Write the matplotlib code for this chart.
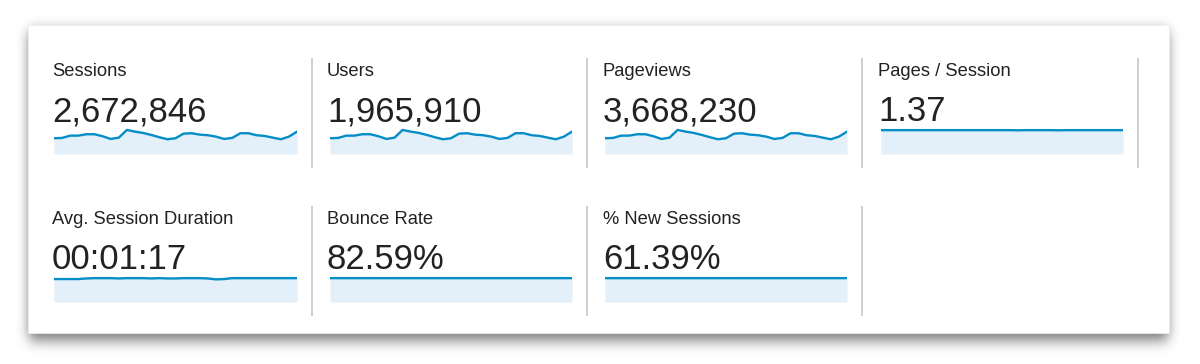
import math
import numpy as np
import matplotlib
matplotlib.use("Agg")
import matplotlib.pyplot as plt
from matplotlib.patches import Rectangle

plt.rcParams['font.family'] = ['Liberation Sans', 'DejaVu Sans']

# ---- data ----
labels = ["Sessions", "Users", "Pageviews", "Pages / Session",
          "Avg. Session Duration", "Bounce Rate", "% New Sessions"]
totals = ["2,672,846", "1,965,910", "3,668,230", "1.37",
          "00:01:17", "82.59%", "61.39%"]

sessions = [74100, 75600, 86400, 86400, 93000, 93000, 83600, 70800, 77000, 113300,
            105300, 99200, 89700, 78900, 69400, 74100, 95900, 97700, 91100, 88300,
            81700, 70800, 75600, 97700, 97700, 88300, 85000, 77000, 69400, 81700, 105300]
users = [54500, 55600, 63500, 63500, 68400, 68400, 61500, 52100, 56600, 83300,
         77400, 73000, 66000, 58000, 51000, 54500, 70500, 71900, 67000, 64900,
         60100, 52100, 55600, 71900, 71900, 64900, 62500, 56600, 51000, 60100, 77400]
pageviews = [101700, 103700, 118500, 118500, 127600, 127600, 114700, 97100, 105600, 155400,
             144500, 136100, 123100, 108300, 95200, 101700, 131600, 134000, 125000, 121100,
             112100, 97100, 103700, 134000, 134000, 121100, 116600, 105600, 95200, 112100, 144500]
pages_per_session = [1.37, 1.37, 1.37, 1.37, 1.37, 1.37, 1.37, 1.37, 1.37, 1.37,
                     1.37, 1.37, 1.37, 1.37, 1.37, 1.37, 1.37, 1.36, 1.37, 1.37,
                     1.37, 1.37, 1.36, 1.37, 1.37, 1.37, 1.37, 1.37, 1.37, 1.37, 1.37]
avg_duration = [75, 75, 75, 75, 77, 78, 78, 78, 77, 78,
                78, 78, 77, 78, 77, 77, 78, 78, 78, 77,
                74, 75, 78, 78, 78, 78, 78, 78, 78, 78, 78]
bounce_rate = [82.5, 82.6, 82.6, 82.6, 82.6, 82.6, 82.6, 82.5, 82.6, 82.6,
               82.6, 82.6, 82.6, 82.6, 82.6, 82.6, 82.6, 82.6, 82.6, 82.6,
               82.6, 82.6, 82.6, 82.6, 82.6, 82.6, 82.6, 82.6, 82.6, 82.6, 82.6]
new_sessions = [61.4, 61.4, 61.4, 61.4, 61.4, 61.4, 61.4, 61.4, 61.4, 61.4,
                61.4, 61.4, 61.4, 61.4, 61.4, 61.3, 61.4, 61.4, 61.4, 61.4,
                61.4, 61.4, 61.4, 61.4, 61.4, 61.4, 61.4, 61.4, 61.4, 61.4, 61.4]
series = [sessions, users, pageviews, pages_per_session,
          avg_duration, bounce_rate, new_sessions]

# ---- layout (pixels) ----
W, H = 1200, 364
fig = plt.figure(figsize=(W / 100, H / 100), dpi=100)
fig.patch.set_facecolor("white")

bg = fig.add_axes([0, 0, 1, 1])
bg.set_xlim(0, W)
bg.set_ylim(H, 0)
bg.axis("off")

card = (28, 25, 1169, 333)

# soft blurred drop shadow (separable gaussian of a rectangle)
erf = np.vectorize(math.erf)
def soft_step(coords, a, b, s):
    return 0.5 * (erf((coords - a) / (s * math.sqrt(2))) - erf((coords - b) / (s * math.sqrt(2))))
xs_pix = np.arange(W) + 0.5
ys_pix = np.arange(H) + 0.5
fx = soft_step(xs_pix, card[0] + 1, card[2] - 1, 6.0)
fy = soft_step(ys_pix, card[1] + 6, card[3] + 7, 7.0)
shadow_alpha = 0.55 * np.outer(fy, fx)
rgba = np.zeros((H, W, 4))
rgba[..., 3] = shadow_alpha
bg.imshow(rgba, extent=(0, W, H, 0), zorder=1, interpolation="bilinear", aspect="auto")
bg.set_xlim(0, W)
bg.set_ylim(H, 0)

bg.add_patch(Rectangle((card[0], card[1]), card[2] - card[0], card[3] - card[1],
                       facecolor="white", edgecolor="#eeeeee", linewidth=0.5, zorder=2))

col_x = [52, 327, 603, 878]
spark_x = [(54, 297), (330, 572), (605, 847), (881, 1123)]
row_y = [0, 148]
sep_x = [311.5, 587, 862, 1138]
line_color = "#058DC7"
fill_color = "#E3F0FA"
text_color = "#222222"

for r in range(2):
    n_cols = 4 if r == 0 else 3
    for c in range(n_cols):
        x = sep_x[c]
        bg.plot([x, x], [58 + row_y[r], 168 + row_y[r]], color="#cccccc",
                lw=1.3, zorder=3, solid_capstyle="butt")

for k in range(7):
    r, c = divmod(k, 4)
    dy = row_y[r]
    bg.text(col_x[c], 76 + dy, labels[k], fontsize=13.2, color=text_color,
            va="baseline", ha="left", zorder=4)
    bg.text(col_x[c], 121 + dy, totals[k], fontsize=25, color=text_color,
            va="baseline", ha="left", zorder=4)

    x0, x1 = spark_x[c]
    y_top, y_bot = 128 + dy, 154 + dy
    ax = fig.add_axes([x0 / W, 1 - y_bot / H, (x1 - x0) / W, (y_bot - y_top) / H])
    vals = series[k]
    xs = list(range(len(vals)))
    ax.fill_between(xs, vals, 0, color=fill_color, lw=0)
    ax.plot(xs, vals, color=line_color, lw=1.7, solid_joinstyle="round")
    top = max(vals) * (1.08 if k < 3 else 1.09)
    ax.set_ylim(0, top)
    ax.set_xlim(0, len(vals) - 1)
    ax.axis("off")
    ax.patch.set_alpha(0)

fig.savefig("out.png", dpi=100, facecolor="white")
